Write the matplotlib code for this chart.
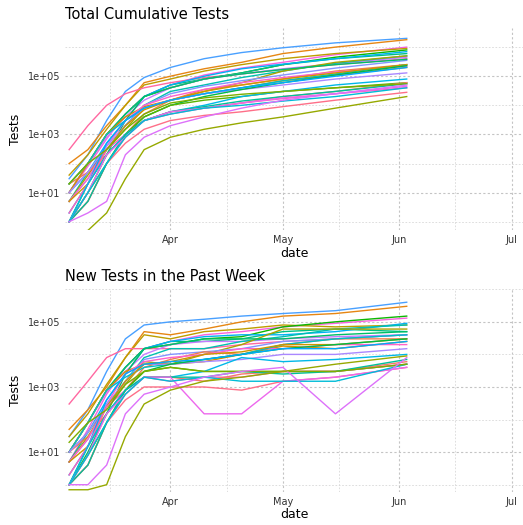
import matplotlib
matplotlib.use("Agg")
import matplotlib.pyplot as plt
import matplotlib.dates as mdates
import numpy as np
from datetime import date

dates = [date(2020,3,5),date(2020,3,10),date(2020,3,15),date(2020,3,20),date(2020,3,25),
         date(2020,4,1),date(2020,4,10),date(2020,4,20),date(2020,5,1),date(2020,5,15),date(2020,6,3)]

# cumulative tests per state (read approximately)
cumulative = {
 "NY": [30,200,3000,30000,90000,200000,400000,650000,950000,1400000,2000000],
 "CA": [100,300,2000,10000,60000,100000,180000,300000,600000,1000000,1800000],
 "TX": [10,80,700,5000,20000,50000,110000,190000,300000,550000,1000000],
 "FL": [40,200,1500,10000,50000,80000,150000,250000,400000,600000,900000],
 "WA": [300,2000,10000,25000,40000,60000,90000,120000,170000,250000,400000],
 "IL": [20,100,1000,5000,20000,40000,80000,130000,250000,450000,800000],
 "MA": [10,100,1000,5000,20000,50000,80000,130000,250000,400000,600000],
 "NJ": [10,50,500,3000,20000,50000,100000,180000,260000,400000,700000],
 "PA": [10,100,800,4000,15000,40000,80000,120000,180000,270000,450000],
 "MI": [5,50,300,2000,10000,30000,50000,90000,150000,280000,500000],
 "GA": [5,40,300,1500,8000,15000,30000,60000,150000,300000,500000],
 "OH": [5,30,300,2000,10000,25000,45000,70000,110000,190000,350000],
 "LA": [1,10,200,3000,20000,40000,80000,120000,170000,250000,380000],
 "AZ": [20,50,200,1000,5000,15000,35000,50000,80000,150000,250000],
 "CO": [10,100,1000,4000,9000,15000,25000,40000,70000,110000,200000],
 "UT": [5,30,400,3000,10000,20000,35000,60000,90000,140000,220000],
 "MN": [20,100,1000,3000,8000,15000,25000,40000,70000,120000,250000],
 "OR": [10,50,400,2000,8000,15000,25000,35000,50000,80000,130000],
 "CT": [5,20,300,2000,7000,15000,30000,50000,80000,130000,250000],
 "KY": [1,20,200,1000,4000,10000,20000,35000,60000,110000,230000],
 "NM": [2,20,500,3000,8000,15000,25000,40000,60000,100000,200000],
 "ID": [1,10,100,1000,4000,10000,15000,20000,30000,40000,60000],
 "VT": [2,20,300,1000,3000,5000,8000,12000,17000,25000,40000],
 "ND": [1,20,200,1000,3000,6000,10000,20000,30000,50000,80000],
 "WY": [1,5,100,500,1500,3000,4500,6000,9000,15000,28000],
 "AK": [1,5,100,800,3000,6000,8000,12000,20000,30000,60000],
 "ME": [1,5,100,1000,3000,6000,9000,14000,20000,30000,55000],
 "SD": [1,10,200,800,3000,6000,8000,12000,18000,25000,45000],
 "MT": [1,10,100,800,3000,5000,8000,10000,14000,20000,40000],
 "HI": [20,100,300,1500,5000,12000,18000,24000,30000,40000,55000],
 "PR": [1,2,5,200,800,2000,4000,8000,15000,25000,50000],
 "GU": [0.4,0.5,2,30,300,800,1500,2500,4000,8000,20000],
}

# new tests in the past week per state (read approximately)
weekly = {
 "NY": [30,200,3000,30000,80000,100000,120000,150000,180000,220000,400000],
 "CA": [50,200,1000,8000,50000,40000,60000,100000,150000,180000,300000],
 "TX": [5,50,600,4000,15000,25000,40000,50000,70000,90000,130000],
 "FL": [30,150,1200,8000,40000,30000,50000,60000,80000,70000,80000],
 "WA": [300,1500,8000,15000,15000,15000,15000,20000,25000,30000,40000],
 "IL": [10,80,800,4000,15000,20000,30000,35000,70000,100000,150000],
 "MA": [10,80,800,4000,15000,25000,25000,30000,50000,60000,50000],
 "NJ": [10,40,400,2500,15000,25000,35000,40000,40000,50000,90000],
 "PA": [10,80,700,3000,10000,20000,25000,25000,30000,35000,40000],
 "MI": [5,40,250,1500,8000,15000,15000,25000,35000,60000,80000],
 "GA": [5,30,250,1200,6000,5000,10000,20000,60000,60000,60000],
 "OH": [5,25,250,1500,7000,10000,12000,15000,25000,30000,40000],
 "LA": [1,10,150,2500,15000,20000,30000,30000,30000,40000,50000],
 "AZ": [10,30,150,800,4000,7000,12000,10000,20000,30000,30000],
 "CO": [10,80,800,3000,5000,5000,6000,10000,18000,15000,25000],
 "UT": [5,25,300,2500,6000,8000,10000,15000,15000,20000,20000],
 "MN": [10,80,800,2000,4000,5000,7000,10000,20000,30000,40000],
 "OR": [10,40,300,1500,5000,5000,6000,7000,10000,10000,15000],
 "CT": [5,15,250,1500,5000,6000,10000,12000,20000,20000,30000],
 "KY": [1,15,150,800,3000,5000,7000,10000,15000,20000,30000],
 "NM": [2,15,400,2500,5000,6000,7000,10000,15000,15000,25000],
 "ID": [1,8,80,800,3000,4000,3000,3000,3000,3000,5000],
 "VT": [2,15,250,800,2000,1500,2000,2000,3000,3000,5000],
 "ND": [1,15,150,800,2000,2000,3000,8000,6000,7000,10000],
 "WY": [1,4,80,400,1000,1000,1000,800,1500,2000,4000],
 "AK": [1,4,80,600,2000,2000,1500,2500,3000,3000,6000],
 "ME": [1,4,80,800,2000,2000,2000,3000,2500,3000,7000],
 "SD": [1,8,150,600,2000,2000,150,150,1500,2000,4000],
 "MT": [1,8,80,600,2000,1500,2000,1500,1500,1500,5000],
 "HI": [20,80,200,1200,3000,4000,3000,3000,3000,3000,5000],
 "PR": [1,1,4,150,600,1000,2000,3000,4000,150,8000],
 "GU": [0.7,0.7,1,30,300,800,1500,2000,3000,5000,9000],
}

def hcl_to_rgb(h, c, l):
    # CIE LCh(uv) -> sRGB, D65
    hr = np.deg2rad(h)
    u = c * np.cos(hr); v = c * np.sin(hr)
    Xn, Yn, Zn = 95.047, 100.0, 108.883
    un = 4 * Xn / (Xn + 15 * Yn + 3 * Zn); vn = 9 * Yn / (Xn + 15 * Yn + 3 * Zn)
    Y = Yn * (((l + 16) / 116) ** 3 if l > 8 else l / 903.3)
    up = u / (13 * l) + un; vp = v / (13 * l) + vn
    X = Y * 9 * up / (4 * vp); Z = Y * (12 - 3 * up - 20 * vp) / (4 * vp)
    X, Y, Z = X / 100, Y / 100, Z / 100
    r = 3.2406 * X - 1.5372 * Y - 0.4986 * Z
    g = -0.9689 * X + 1.8758 * Y + 0.0415 * Z
    b = 0.0557 * X - 0.2040 * Y + 1.0570 * Z
    def gam(x):
        x = 12.92 * x if x <= 0.0031308 else 1.055 * x ** (1 / 2.4) - 0.055
        return min(1, max(0, x))
    return (gam(r), gam(g), gam(b))

def hue_pal(n):
    return [hcl_to_rgb(h % 360, 100, 65) for h in np.linspace(15, 375, n + 1)[:-1]]

states = list(cumulative.keys())
order = np.argsort(states)
colors = hue_pal(len(states))
cmap = {states[i]: colors[k] for k, i in enumerate(order)}
xd = mdates.date2num(dates)

fig, axes = plt.subplots(2, 1, figsize=(5.23, 5.25), dpi=100)
fig.subplots_adjust(left=0.125, right=1.0, top=0.947, bottom=0.063, hspace=0.29)

def style(ax, title, ylim):
    ax.set_yscale("log")
    ax.set_ylim(*ylim)
    ax.set_xlim(mdates.date2num(date(2020,3,4)), mdates.date2num(date(2020,7,4)))
    ax.set_yticks([1e1, 1e3, 1e5])
    ax.set_yticklabels(["1e+01", "1e+03", "1e+05"])
    ax.set_yticks([1e0, 1e2, 1e4, 1e6], minor=True)
    ax.yaxis.set_minor_formatter(matplotlib.ticker.NullFormatter())
    ax.set_xticks(mdates.date2num([date(2020,4,1), date(2020,5,1), date(2020,6,1), date(2020,7,1)]))
    ax.set_xticklabels(["Apr", "May", "Jun", "Jul"])
    ax.set_xticks(mdates.date2num([date(2020,3,16), date(2020,4,16), date(2020,5,16), date(2020,6,16)]), minor=True)
    ax.grid(True, which="major", color="#c4c4c4", linestyle=(0, (2, 2)), linewidth=0.8)
    ax.grid(True, which="minor", color="#d8d8d8", linestyle=(0, (2, 2)), linewidth=0.6)
    ax.tick_params(which="both", length=0, labelsize=7, colors="#333333")
    for s in ax.spines.values():
        s.set_visible(False)
    ax.set_axisbelow(True)
    ax.set_xlabel("date", fontsize=9, labelpad=1)
    ax.set_ylabel("Tests", fontsize=9)
    ax.set_title(title, loc="left", fontsize=10.5, pad=6)

for st in states:
    axes[0].plot(xd, cumulative[st], color=cmap[st], lw=1)
    axes[1].plot(xd, weekly[st], color=cmap[st], lw=1)

style(axes[0], "Total Cumulative Tests", (0.5, 4.6e6))
style(axes[1], "New Tests in the Past Week", (0.6, 4e5))

fig.savefig("out.png", dpi=100)
